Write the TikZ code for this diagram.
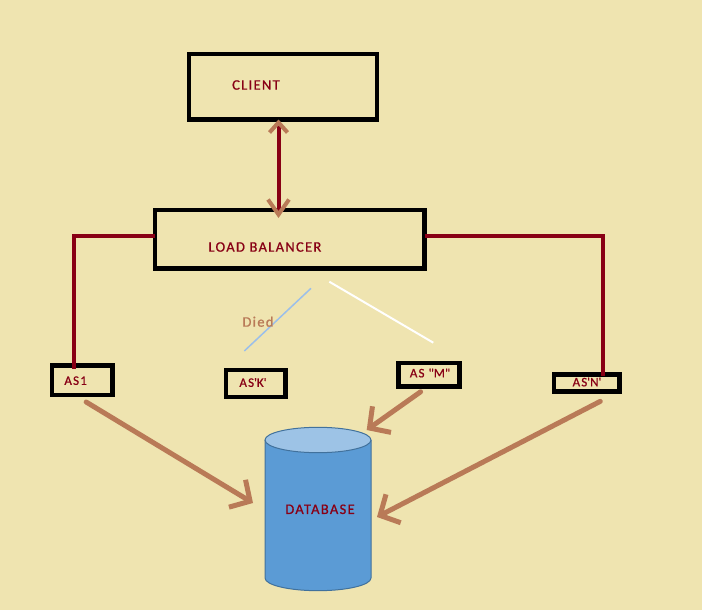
\documentclass[tikz,border=0pt]{standalone}
\usepackage{fontspec}
\setmainfont{Carlito}[LetterSpace=9,FakeBold=0.8]
\usetikzlibrary{arrows.meta}
\definecolor{bg}{HTML}{EFE4B0}
\definecolor{dred}{HTML}{880015}
\definecolor{brn}{HTML}{B97A57}
\definecolor{dbbody}{HTML}{5B9BD5}
\definecolor{dbtop}{HTML}{9DC3E6}
\definecolor{dbline}{HTML}{41719C}
\definecolor{lblue}{HTML}{9BBFEA}
\tikzset{
  box/.style={draw=black, line width=4.5pt, inner sep=0pt, outer sep=0pt},
  lbl/.style={text=dred, inner sep=0pt, font=\fontsize{14.5pt}{17pt}\selectfont},
  aslbl/.style={text=dred, inner sep=0pt, font=\fontsize{13pt}{15pt}\selectfont},
  redline/.style={draw=dred, line width=4pt},
  brarrow/.style={draw=brn, line width=5pt, line cap=round,
    -{Straight Barb[length=15pt,width=32pt,color=brn]}},
}
\begin{document}
\begin{tikzpicture}[x=1pt,y=-1pt]
\fill[bg] (0,0) rectangle (702,610);
\useasboundingbox (0,0) rectangle (702,610);

% boxes
\node[box, minimum width=188pt, minimum height=65.5pt] (client) at (283,86.75) {};
\node[lbl, anchor=west] (clientt) at (232,85) {CLIENT};
\node[box, minimum width=269.5pt, minimum height=58.5pt] (lb) at (289.75,239.25) {};
\node[lbl, anchor=west] (lbt) at (208.3,247) {LOAD BALANCER};

\node[box, minimum width=60.3pt, minimum height=29.7pt] (as1) at (82.15,380.15) {};
\node[aslbl] (as1t) at (75.6,380.7) {AS1};
\node[box, minimum width=59.5pt, minimum height=27pt] (ask) at (255.75,383.5) {};
\node[aslbl] (askt) at (253,382.5) {AS\textquotesingle K\textquotesingle};
\node[box, minimum width=60.8pt, minimum height=23.3pt] (asm) at (429.1,374.65) {};
\node[aslbl] (asmt) at (430,373) {AS \textquotedbl M\textquotedbl};
\node[box, minimum width=65.5pt, minimum height=17pt] (asn) at (586.75,382.85) {};
\node[aslbl] (asnt) at (587,382) {AS\textquotesingle N\textquotesingle};

% client <-> load balancer
\draw[dred, line width=4pt,
  {Straight Barb[length=10pt,width=18pt,color=brn]}-{Straight Barb[length=15pt,width=21pt,color=brn]},
  shorten >=-8pt]
  ([xshift=-4.5pt]client.south) -- ([xshift=-4.5pt]client.south |- lb.north);

% red connectors
\draw[redline] ([yshift=3.25pt]lb.west) -| ([xshift=-7.75pt,yshift=-4pt]as1.north);
\draw[redline] ([yshift=3.25pt]lb.east) -| ([xshift=15.85pt,yshift=-2pt]asn.north);

% died lines
\draw[lblue, line width=1.5pt] (244.3,351) -- (311,288.3);
\draw[white, line width=2pt] (329.3,281.7) -- (433.3,342.7);
\node[text=brn, inner sep=0pt, font=\fontsize{14.5pt}{17pt}\selectfont] (died) at (258,321.7) {Died};

% database
\fill[dbbody] (265,440) -- (265,578) arc (180:0:53 and 12.7) -- (371,440) -- cycle;
\draw[dbline, line width=1pt] (265,440) -- (265,578) arc (180:0:53 and 12.7) -- (371,440);
\filldraw[fill=dbtop, draw=dbline, line width=1pt] (318,440) ellipse (53 and 12.7);
\node[lbl] (db) at (320,509.3) {DATABASE};

% arrows to database
\coordinate (t1) at (253,503);
\coordinate (t2) at (366.7,430);
\coordinate (t3) at (377,517);
\draw[brarrow] ([xshift=4pt,yshift=-7pt]as1.south) -- (t1);
\draw[brarrow] ([xshift=-8.5pt,yshift=-5.5pt]asm.south) -- (t2);
\draw[brarrow] ([xshift=13.5pt,yshift=-10pt]asn.south) -- (t3);
\end{tikzpicture}
\end{document}
